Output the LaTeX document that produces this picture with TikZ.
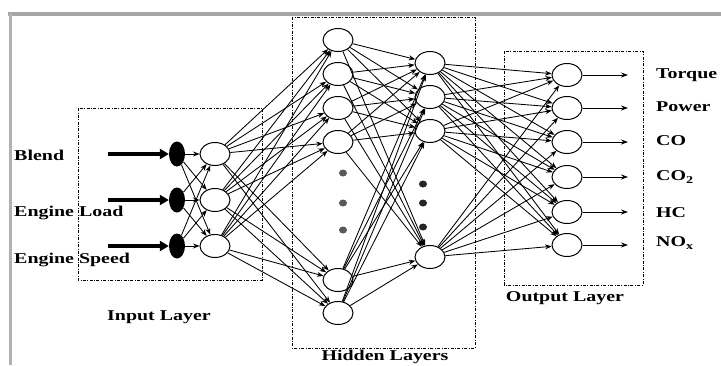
\documentclass[tikz,border=0pt]{standalone}
\usepackage{fontspec}
\setmainfont{Liberation Serif}
\usetikzlibrary{shapes.geometric,arrows.meta}
\newcommand{\wlabel}[1]{\scalebox{1.33}[1]{#1}}
\begin{document}
\begin{tikzpicture}[x=1pt,y=-1pt,
  neuron/.style={ellipse,draw,line width=1pt,minimum width=30pt,minimum height=23pt,inner sep=0pt,fill=white},
  feeder/.style={ellipse,fill=black,minimum width=16pt,minimum height=25pt,inner sep=0pt},
  link/.style={line width=0.85pt,-{Stealth[length=6.5pt,width=5pt]}},
  outlink/.style={line width=0.9pt,-{Stealth[length=7pt,width=5pt]}},
  thickarrow/.style={line width=3.5pt,-{Triangle[length=9pt,width=10pt]}},
  layerbox/.style={draw,line width=0.9pt,dash pattern=on 3pt off 1.5pt on 0.8pt off 1.5pt},
  txt/.style={font=\bfseries\fontsize{15}{18}\selectfont,inner sep=0pt},
  dot/.style={ellipse,fill=#1,minimum width=8pt,minimum height=7pt,inner sep=0pt}
]
\useasboundingbox (0,0) rectangle (721,365);
\fill[white] (0,0) rectangle (721,365);

% window frame shadow
\draw[line width=4pt,black!35] (8,14) -- (721,14);
\draw[line width=3pt,black!30] (10,14) -- (10,365);

% layer boxes
\draw[layerbox] (78,108) rectangle (262,280);
\draw[layerbox] (292,17) rectangle (475,348);
\draw[layerbox] (504,51) rectangle (643,285);

% input side
\foreach \i/\y in {1/154,2/200,3/246}{
  \node[feeder] (f\i) at (177,\y) {};
  \node[neuron] (in\i) at (215,\y) {};
  \coordinate (src\i) at (108,\y);
  \draw[thickarrow] (src\i) -- (f\i.west);
}
\node[txt,anchor=west] (lblend) at (14,155) {\wlabel{Blend}};
\node[txt,anchor=west] (lload) at (14,213) {\wlabel{Engine Load}};
\node[txt,anchor=west] (lspeed) at (14,260) {\wlabel{Engine Speed}};

% hidden layers
\foreach \i/\y in {1/40,2/74,3/108,4/142,5/280,6/313}{
  \node[neuron] (ha\i) at (338,\y) {};
}
\foreach \i/\y in {1/63,2/97,3/131,4/257}{
  \node[neuron] (hb\i) at (430,\y) {};
}
\foreach \y in {173,203,230}{ \node[dot=black!65] at (343,\y) {}; }
\foreach \y in {184,203,227}{ \node[dot=black!85] at (423,\y) {}; }

% output layer
\foreach \i/\y in {1/75,2/108,3/142,4/177,5/212,6/245}{
  \node[neuron] (out\i) at (567,\y) {};
  \coordinate (res\i) at (628,\y);
  \draw[outlink] (out\i.east) -- (res\i);
}
\node[txt,anchor=west] (ltorque) at (656,75) {\wlabel{Torque}};
\node[txt,anchor=west] (lpower) at (656,107) {\wlabel{Power}};
\node[txt,anchor=west] (lco) at (656,141) {\wlabel{CO}};
\node[txt,anchor=west] (lco2) at (656,177) {\wlabel{CO\textsubscript{2}}};
\node[txt,anchor=west] (lhc) at (656,213) {\wlabel{HC}};
\node[txt,anchor=west] (lnox) at (656,243) {\wlabel{NO\textsubscript{x}}};

% connections
\foreach \a in {1,2,3}{
  \foreach \b in {1,2,3}{ \draw[link] (f\a) -- (in\b); }
  \foreach \b in {1,...,6}{ \draw[link] (in\a) -- (ha\b); }
}
\foreach \a in {1,...,6}{
  \foreach \b in {1,...,4}{ \draw[link] (ha\a) -- (hb\b); }
}
\foreach \a in {1,...,4}{
  \foreach \b in {1,...,6}{ \draw[link] (hb\a) -- (out\b); }
}

% layer titles
\node[txt] (tin) at (159,317) {\wlabel{Input Layer}};
\node[txt] (tout) at (565,298) {\wlabel{Output Layer}};
\node[txt] (thid) at (385,357) {\wlabel{Hidden Layers}};
\end{tikzpicture}
\end{document}
